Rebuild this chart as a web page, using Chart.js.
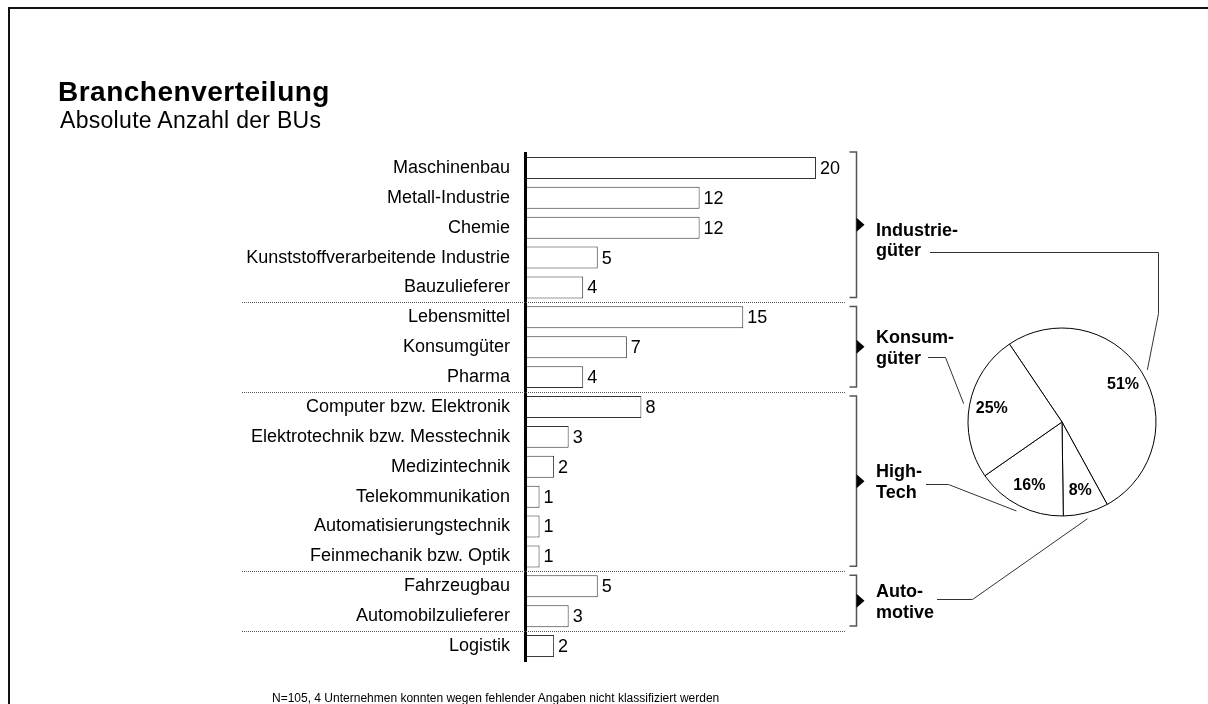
<!DOCTYPE html>
<html>
<head>
<meta charset="utf-8">
<script src="https://cdn.jsdelivr.net/npm/chart.js"></script>
<style>
html,body{margin:0;padding:0;background:#fff;overflow:hidden;width:1208px;height:704px;}
#frame{position:absolute;left:8px;top:7px;width:1400px;height:900px;border-top:2px solid #111;border-left:2px solid #111;box-sizing:border-box;}
canvas{position:absolute;left:0;top:0;}
.t{position:absolute;font-family:'Liberation Sans',Arial,sans-serif;color:#000;white-space:nowrap;}
#title{left:58px;top:78px;font-size:28px;line-height:28px;font-weight:bold;letter-spacing:0.5px;}
#sub{left:60px;top:108.5px;font-size:23px;line-height:23px;letter-spacing:0.3px;}
#foot{left:272px;top:692px;font-size:12px;line-height:12px;}
</style>
</head>
<body>
<div id="frame"></div>
<canvas id="bar" width="1208" height="704"></canvas>
<canvas id="pie" width="1208" height="704"></canvas>
<div class="t" id="title">Branchenverteilung</div>
<div class="t" id="sub">Absolute Anzahl der BUs</div>
<div class="t" id="foot">N=105, 4 Unternehmen konnten wegen fehlender Angaben nicht klassifiziert werden</div>
<script>
// ---- data ----
const categories = ['Maschinenbau','Metall-Industrie','Chemie','Kunststoffverarbeitende Industrie','Bauzulieferer',
  'Lebensmittel','Konsumgüter','Pharma',
  'Computer bzw. Elektronik','Elektrotechnik bzw. Messtechnik','Medizintechnik','Telekommunikation','Automatisierungstechnik','Feinmechanik bzw. Optik',
  'Fahrzeugbau','Automobilzulieferer',
  'Logistik'];
const counts = [20,12,12,5,4, 15,7,4, 8,3,2,1,1,1, 5,3, 2];
const groupLabels = [['Industrie-','güter'],['Konsum-','güter'],['High-','Tech'],['Auto-','motive']];
const groupSizes = [5,3,6,2];
const pieOrder = [0,3,2,1]; // clockwise slice order (group indices)

// derived
const groupSums = [];
{ let k = 0; groupSizes.forEach(n => { let s = 0; for (let i = 0; i < n; i++) s += counts[k + i]; groupSums.push(s); k += n; }); }
const pieValues = pieOrder.map(g => groupSums[g]);

// ---- styling ----
const FONT = "'Liberation Sans', Arial, sans-serif";
Chart.defaults.font.family = FONT;
Chart.defaults.color = '#000';

const groupLabelOffsets = [[11, 31], [-4, 17], [-4, 17], [-4, 17]];
const leaderPaths = [
  [[930,252],[1158,252],[1158,313]],
  [[928,357],[945,357]],
  [[926,484],[948,484]],
  [[937,599],[972,599]]
];

const barDecor = {
  id: 'barDecor',
  afterDraw(chart) {
    const ctx = chart.ctx;
    const ys = chart.scales.y;
    const meta = chart.getDatasetMeta(0);
    const pitch = ys.getPixelForValue(1) - ys.getPixelForValue(0);
    ctx.save();
    // value labels
    ctx.font = '18px ' + FONT;
    ctx.fillStyle = '#000';
    ctx.textAlign = 'left';
    ctx.textBaseline = 'middle';
    meta.data.forEach((el, i) => {
      ctx.fillText(String(counts[i]), el.x + 4, el.y + 1);
    });
    // separators, brackets, labels
    let k = 0;
    groupSizes.forEach((n, g) => {
      const bandTop = ys.getPixelForValue(k) - pitch / 2;
      const bandBot = ys.getPixelForValue(k + n - 1) + pitch / 2;
      // dotted separator below group
      ctx.save();
      ctx.strokeStyle = '#555';
      ctx.lineWidth = 1;
      ctx.setLineDash([1, 1]);
      ctx.beginPath();
      ctx.moveTo(242, Math.round(bandBot) + 0.5);
      ctx.lineTo(846, Math.round(bandBot) + 0.5);
      ctx.stroke();
      ctx.restore();
      // bracket
      const top = g === 0 ? bandTop - 1 : bandTop + 4;
      const bot = bandBot - 5;
      const bx = 856.5;
      ctx.strokeStyle = '#555';
      ctx.lineWidth = 1.5;
      ctx.beginPath();
      ctx.moveTo(bx - 7, top);
      ctx.lineTo(bx, top);
      ctx.lineTo(bx, bot);
      ctx.lineTo(bx - 7, bot);
      ctx.stroke();
      const mid = (top + bot) / 2;
      ctx.fillStyle = '#000';
      ctx.beginPath();
      ctx.moveTo(bx, mid - 7);
      ctx.lineTo(bx + 8, mid);
      ctx.lineTo(bx, mid + 7);
      ctx.closePath();
      ctx.fill();
      // group label
      ctx.font = 'bold 18px ' + FONT;
      ctx.textAlign = 'left';
      ctx.textBaseline = 'alphabetic';
      groupLabels[g].forEach((line, li) => {
        ctx.fillText(line, 876, mid + groupLabelOffsets[g][li]);
      });
      k += n;
    });
    ctx.restore();
  }
};

const barChart = new Chart(document.getElementById('bar'), {
  type: 'bar',
  data: {
    labels: categories,
    datasets: [{
      data: counts,
      backgroundColor: '#fff',
      borderColor: '#333',
      borderWidth: 1,
      barPercentage: 0.735,
      categoryPercentage: 1
    }]
  },
  options: {
    responsive: false,
    animation: false,
    devicePixelRatio: 1,
    events: [],
    indexAxis: 'y',
    layout: { padding: { left: 0, right: 392, top: 153, bottom: 43 } },
    plugins: { legend: { display: false }, tooltip: { enabled: false } },
    scales: {
      x: { display: false, min: 0, max: 20 },
      y: {
        z: 1,
        grid: { display: false, drawTicks: false },
        border: { display: true, color: '#000', width: 3, z: 1 },
        ticks: { padding: 15, color: '#000', font: { size: 18 }, autoSkip: false },
        afterFit(s) { s.width = 525; }
      }
    }
  },
  plugins: [barDecor]
});

const pieDecor = {
  id: 'pieDecor',
  afterDraw(chart) {
    const ctx = chart.ctx;
    const meta = chart.getDatasetMeta(0);
    const total = pieValues.reduce((a, b) => a + b, 0);
    ctx.save();
    // percentage labels
    ctx.font = 'bold 16px ' + FONT;
    ctx.fillStyle = '#000';
    ctx.textAlign = 'center';
    ctx.textBaseline = 'middle';
    meta.data.forEach((arc, i) => {
      const a = (arc.startAngle + arc.endAngle) / 2;
      const r = arc.outerRadius * 0.76;
      ctx.fillText(Math.round(pieValues[i] / total * 100) + '%', arc.x + r * Math.cos(a), arc.y + r * Math.sin(a));
    });
    // leader lines
    ctx.strokeStyle = '#333';
    ctx.lineWidth = 1;
    meta.data.forEach((arc, i) => {
      const g = pieOrder[i];
      const a = (arc.startAngle + arc.endAngle) / 2;
      const r = arc.outerRadius + 6;
      const pts = leaderPaths[g];
      ctx.beginPath();
      ctx.moveTo(pts[0][0], pts[0][1] + 0.5);
      for (let j = 1; j < pts.length; j++) ctx.lineTo(pts[j][0] + 0.5, pts[j][1] + 0.5);
      ctx.lineTo(arc.x + r * Math.cos(a), arc.y + r * Math.sin(a));
      ctx.stroke();
    });
    ctx.restore();
  }
};

const pieChart = new Chart(document.getElementById('pie'), {
  type: 'pie',
  data: {
    labels: pieOrder.map(g => groupLabels[g].join('').replace('-', '')),
    datasets: [{
      data: pieValues,
      backgroundColor: '#fff',
      borderColor: '#000',
      borderWidth: 1,
      radius: 94
    }]
  },
  options: {
    responsive: false,
    animation: false,
    devicePixelRatio: 1,
    events: [],
    rotation: -34,
    layout: { padding: { left: 962, right: 46, top: 322, bottom: 182 } },
    plugins: { legend: { display: false }, tooltip: { enabled: false } }
  },
  plugins: [pieDecor]
});
</script>
</body>
</html>
